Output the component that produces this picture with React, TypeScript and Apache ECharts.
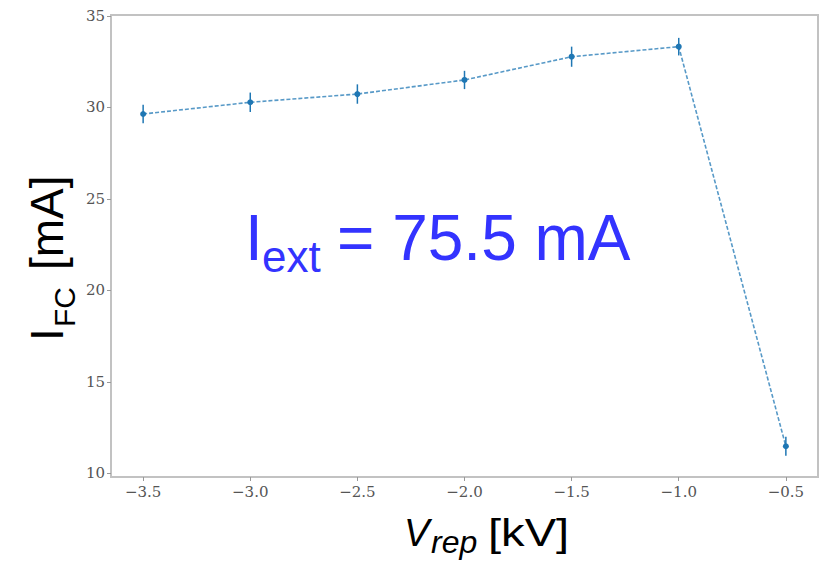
import React, { useEffect, useRef } from "react";
import * as echarts from "echarts";

const vRep = [-3.5, -3.0, -2.5, -2.0, -1.5, -1.0, -0.5];
const iFC = [29.64, 30.28, 30.73, 31.5, 32.77, 33.32, 11.48];
const iErr = [0.5, 0.53, 0.53, 0.5, 0.55, 0.48, 0.52];
const xTicks = [-3.5, -3.0, -2.5, -2.0, -1.5, -1.0, -0.5];
const yTicks = [10, 15, 20, 25, 30, 35];

const BLUE = "#1f77b4";
const TEXT_BLUE = "#3333ff";
const SANS = "'Liberation Sans', Arial, sans-serif";
const SERIF = "'DejaVu Serif', serif";

const fmtX = (v: number) => (v < 0 ? "\u2212" : "") + Math.abs(v).toFixed(1);

export default function App() {
  const ref = useRef<HTMLDivElement>(null);
  useEffect(() => {
    if (!ref.current) return;
    const chart = echarts.init(ref.current, undefined, { renderer: "svg" });
    const lineData = vRep.map((x, i) => [x, iFC[i]]);
    const errData = vRep.map((x, i) => [x, iFC[i] - iErr[i], iFC[i] + iErr[i]]);
    chart.setOption({
      animation: false,
      grid: {
        left: 111,
        right: 2,
        top: 15,
        bottom: 99,
        show: true,
        borderColor: "#c2c2c2",
        borderWidth: 2,
        backgroundColor: "#fff",
      },
      xAxis: {
        type: "value",
        min: -3.65,
        max: -0.35,
        splitLine: { show: false },
        axisLine: { show: false },
        axisTick: { show: true, length: 4, customValues: xTicks, lineStyle: { color: "#999", width: 1 } },
        axisLabel: {
          customValues: xTicks,
          formatter: fmtX,
          fontFamily: SERIF,
          fontSize: 15,
          color: "#555",
          margin: 7,
        },
      },
      yAxis: {
        type: "value",
        min: 9.8,
        max: 35.05,
        splitLine: { show: false },
        axisLine: { show: false },
        axisTick: { show: true, length: 4, customValues: yTicks, lineStyle: { color: "#999", width: 1 } },
        axisLabel: {
          customValues: yTicks,
          formatter: (v: number) => String(v),
          fontFamily: SERIF,
          fontSize: 15,
          color: "#555",
          margin: 6,
        },
      },
      series: [
        {
          type: "line",
          data: lineData,
          symbol: "circle",
          symbolSize: 6,
          itemStyle: { color: BLUE },
          lineStyle: { color: BLUE, width: 1.6, type: [4, 2], opacity: 0.75 },
          z: 2,
        },
        {
          type: "custom",
          data: errData,
          z: 3,
          renderItem: (params: any, api: any) => {
            const p1 = api.coord([api.value(0), api.value(1)]);
            const p2 = api.coord([api.value(0), api.value(2)]);
            return {
              type: "line",
              shape: { x1: p1[0], y1: p1[1], x2: p2[0], y2: p2[1] },
              style: { stroke: BLUE, lineWidth: 1.5 },
            };
          },
        },
      ],
      graphic: [
        {
          type: "text",
          x: 245,
          y: 238,
          style: { text: "I", font: `64px ${SANS}`, fill: TEXT_BLUE, verticalAlign: "middle", align: "left" },
        },
        {
          type: "text",
          x: 262,
          y: 256,
          style: { text: "ext", font: `44px ${SANS}`, fill: TEXT_BLUE, verticalAlign: "middle", align: "left" },
        },
        {
          type: "text",
          x: 337,
          y: 238,
          style: { text: "= 75.5 mA", font: `64px ${SANS}`, fill: TEXT_BLUE, verticalAlign: "middle", align: "left" },
        },
        {
          type: "group",
          x: 63,
          y: 341,
          rotation: Math.PI / 2,
          children: [
            {
              type: "text",
              x: 0,
              y: -16,
              style: { text: "I", font: `46px ${SANS}`, fill: "#000", verticalAlign: "middle", align: "left" },
            },
            {
              type: "text",
              x: 14,
              y: 1.5,
              style: { text: "FC", font: `30px ${SANS}`, fill: "#000", verticalAlign: "middle", align: "left" },
            },
            {
              type: "text",
              x: 71,
              y: -16,
              style: { text: "[mA]", font: `46px ${SANS}`, fill: "#000", verticalAlign: "middle", align: "left" },
            },
          ],
        },
        {
          type: "text",
          x: 404,
          y: 533,
          style: { text: "V", font: `italic 38px ${SANS}`, fill: "#000", verticalAlign: "middle", align: "left" },
        },
        {
          type: "text",
          x: 431,
          y: 542,
          style: { text: "rep", font: `italic 32px ${SANS}`, fill: "#000", verticalAlign: "middle", align: "left" },
        },
        {
          type: "text",
          x: 488,
          y: 533,
          scaleX: 1.24,
          style: { text: "[kV]", font: `38px ${SANS}`, fill: "#000", verticalAlign: "middle", align: "left" },
        },
      ],
    });
    return () => chart.dispose();
  }, []);
  return (
    <div
      ref={ref}
      style={{ position: "absolute", left: 0, top: 0, width: 820, height: 576, background: "#fff" }}
    />
  );
}
